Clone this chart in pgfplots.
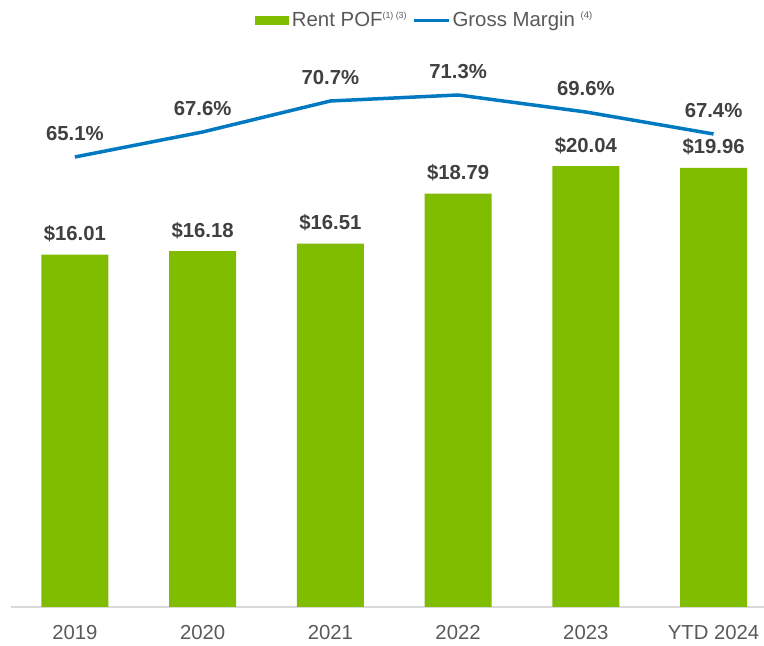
\documentclass[border=0pt]{standalone}
\usepackage{pgfplots}
\pgfplotsset{compat=1.18}
\usepackage{fontspec}
\setmainfont{Liberation Sans}
\definecolor{bargreen}{RGB}{128,188,0}
\definecolor{lineblue}{RGB}{0,121,193}
\definecolor{labelgray}{RGB}{64,64,64}
\definecolor{tickgray}{RGB}{89,89,89}
\definecolor{axisgray}{RGB}{217,217,217}
\begin{document}
\begin{tikzpicture}
\useasboundingbox (0pt,0pt) rectangle (764pt,646pt);
\begin{axis}[
  at={(11pt,39pt)}, anchor=south west,
  scale only axis, width=753pt, height=567pt,
  xmin=-0.5, xmax=5.395, ymin=0, ymax=25.77,
  axis x line*=bottom, axis y line=none,
  x axis line style={draw=axisgray, line width=1.2pt, -},
  xtick={0,...,5}, xticklabels={2019,2020,2021,2022,2023,YTD 2024},
  major tick length=0pt,
  xticklabel style={font=\fontsize{20.3}{21}\selectfont, text=tickgray, anchor=base, yshift=-33pt},
  ytick=\empty,
  clip=false,
  /pgf/number format/assume math mode=true,
]
\addplot[ybar, bar width=67pt, fill=bargreen, draw=none,
  nodes near coords={\$\pgfmathprintnumber[fixed, fixed zerofill, precision=2]{\pgfplotspointmeta}},
  every node near coord/.append style={font=\bfseries\fontsize{20.3}{21}\selectfont, text=labelgray, anchor=base, yshift=14pt}]
  coordinates {(0,16.01) (1,16.18) (2,16.51) (3,18.79) (4,20.04) (5,19.96)};
\end{axis}
\begin{axis}[
  at={(11pt,39pt)}, anchor=south west,
  scale only axis, width=753pt, height=567pt,
  xmin=-0.5, xmax=5.395, ymin=20.1, ymax=76.8,
  hide axis, clip=false,
  /pgf/number format/assume math mode=true,
  legend columns=2,
  legend style={at={(0.549,1.035)}, anchor=center, draw=none, fill=none,
    font=\fontsize{20.4}{21}\selectfont, text=tickgray,
    /tikz/every even column/.append style={column sep=4pt}},
]
\addlegendimage{legend image code/.code={\fill[bargreen] (0pt,-4pt) rectangle (33pt,4pt); \path (35pt,0pt);}}
\addlegendentry{Rent POF\raisebox{8pt}{\fontsize{8.8}{9}\selectfont (1) (3)}}
\addplot[lineblue, line width=3.5pt, mark=none, line join=round,
  legend image code/.code={\draw[lineblue, line width=3pt] (0pt,0pt) -- (35pt,0pt);},
  nodes near coords={\pgfmathprintnumber[fixed, fixed zerofill, precision=1]{\pgfplotspointmeta}\%},
  every node near coord/.append style={font=\bfseries\fontsize{20.3}{21}\selectfont, text=labelgray, anchor=base, yshift=16.5pt}]
  coordinates {(0,65.1) (1,67.6) (2,70.7) (3,71.3) (4,69.6) (5,67.4)};
\addlegendentry{Gross Margin \raisebox{8pt}{\fontsize{9.5}{10}\selectfont (4)}}
\end{axis}
\end{tikzpicture}
\end{document}
